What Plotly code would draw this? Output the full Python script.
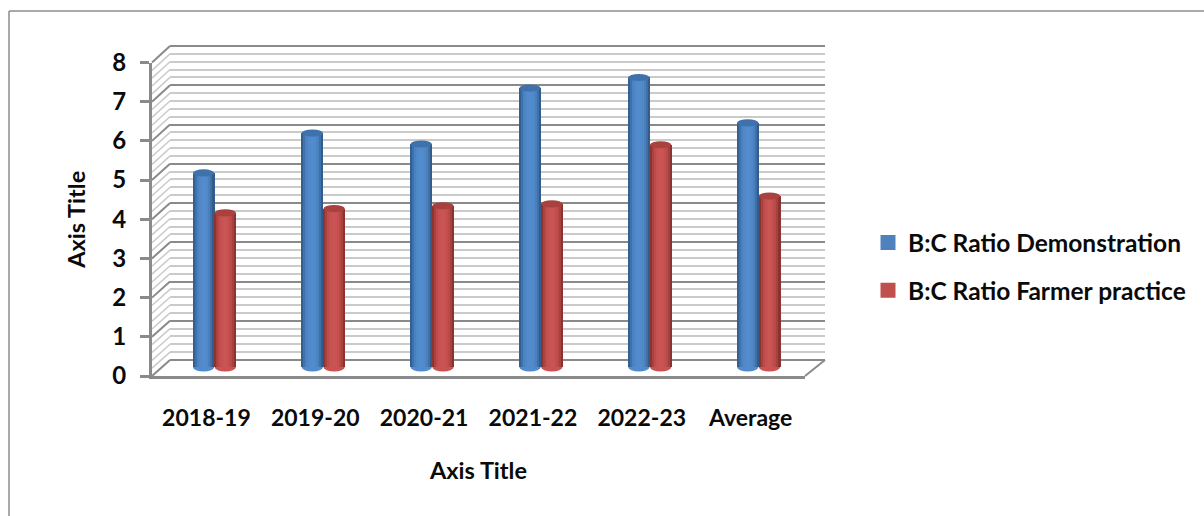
import plotly.graph_objects as go

categories = ["2018-19", "2019-20", "2020-21", "2021-22", "2022-23", "Average"]
demonstration = [4.96, 5.98, 5.7, 7.13, 7.4, 6.24]
farmer = [3.94, 4.05, 4.12, 4.17, 5.68, 4.37]
series_names = ["B:C Ratio Demonstration", "B:C Ratio Farmer practice"]
y_ticks = [0, 1, 2, 3, 4, 5, 6, 7, 8]

W, H = 1204, 516
FONT = "Lato, 'Open Sans', sans-serif"
TXT = "#0a0a0a"
BLUE_KEY = "#4f81bd"
RED_KEY = "#c0504d"
BLUE_SHADES = ["#32608f", "#3f72ad", "#4a81c0", "#4f88c8", "#528bcc", "#538ccd", "#528bcc", "#4f88c7", "#4a80bd", "#3f70a8", "#325c8a"]
RED_SHADES = ["#8c3432", "#a9423f", "#bc4b49", "#c55150", "#c95352", "#ca5553", "#c95352", "#c4504e", "#ba4a48", "#a6413f", "#8a3331"]


def fx(px):
    return px / W


def fy(px):
    return 1 - px / H


# pixel boxes (left, right, top, bottom) of the three depth planes
BACK = (170, 825, 46, 360)
FRONT = (152, 805, 62.5, 376)
MID = (160, 813, 54, 367)
GRID_MAJOR = "#8a8a8a"
GRID_MINOR = "#cacaca"

fig = go.Figure()

# plane helpers: invisible traces make the back and front axes exist
fig.add_trace(go.Scatter(x=categories, y=[None] * 6, xaxis="x", yaxis="y", showlegend=False, hoverinfo="skip"))
fig.add_trace(go.Scatter(x=categories, y=[None] * 6, xaxis="x2", yaxis="y2", showlegend=False, hoverinfo="skip"))

BAR_W = 0.2
for name, vals, shades, start, key in [
    (series_names[0], demonstration, BLUE_SHADES, -BAR_W, BLUE_KEY),
    (series_names[1], farmer, RED_SHADES, 0.0, RED_KEY),
]:
    # legend key only
    fig.add_trace(go.Bar(
        x=categories, y=[None] * 6, name=name, xaxis="x3", yaxis="y3",
        marker=dict(color=key, line=dict(color=key, width=3)),
        legendgroup=name, showlegend=True,
    ))
    # narrow strips give the cylinder shading
    n = len(shades)
    for k, c in enumerate(shades):
        fig.add_trace(go.Bar(
            x=categories, y=vals, xaxis="x3", yaxis="y3", name=name,
            width=BAR_W / n + 0.002, offset=start + k * BAR_W / n,
            marker=dict(color=c, line=dict(width=0)),
            legendgroup=name, showlegend=False,
        ))

shapes = []
# chart frame
line_frame = dict(color="#8c8c8c", width=1.5)
shapes.append(dict(type="line", xref="paper", yref="paper", x0=fx(9), x1=fx(W), y0=fy(11), y1=fy(11), line=line_frame))
shapes.append(dict(type="line", xref="paper", yref="paper", x0=fx(9), x1=fx(9), y0=fy(11), y1=fy(H), line=line_frame))

# left wall diagonals
for i in range(41):
    v = i * 0.2
    major = i % 5 == 0
    yf = FRONT[3] + (FRONT[2] - FRONT[3]) * v / 8
    yb = BACK[3] + (BACK[2] - BACK[3]) * v / 8
    shapes.append(dict(
        type="line", xref="paper", yref="paper", layer="below",
        x0=fx(FRONT[0]), y0=fy(yf), x1=fx(BACK[0]), y1=fy(yb),
        line=dict(color=GRID_MAJOR if major else GRID_MINOR, width=2 if major else 1.5),
    ))
# floor right edge and the top and bottom back-wall lines
shapes.append(dict(type="line", xref="paper", yref="paper", layer="below",
                   x0=fx(FRONT[1]), y0=fy(FRONT[3]), x1=fx(BACK[1]), y1=fy(BACK[3]),
                   line=dict(color=GRID_MAJOR, width=2)))
for y_edge in (BACK[2], BACK[3]):
    shapes.append(dict(type="line", xref="paper", yref="paper", layer="below",
                       x0=fx(BACK[0]), y0=fy(y_edge), x1=fx(BACK[1]), y1=fy(y_edge),
                       line=dict(color=GRID_MAJOR, width=2)))

# cylinder caps, from the data
cap_half = 0.098
cap_v = 0.115
for vals, shades, start in [(demonstration, BLUE_SHADES, -BAR_W), (farmer, RED_SHADES, 0.0)]:
    for i, v in enumerate(vals):
        c = i + start + BAR_W / 2
        shapes.append(dict(type="circle", xref="x3", yref="y3", layer="between",
                           x0=c - cap_half, x1=c + cap_half, y0=-cap_v, y1=cap_v,
                           fillcolor=shades[4], line=dict(width=0)))
        shapes.append(dict(type="circle", xref="x3", yref="y3", layer="above",
                           x0=c - cap_half, x1=c + cap_half, y0=v - cap_v * 0.8, y1=v + cap_v * 0.8,
                           fillcolor=shades[1], line=dict(width=0)))

# the bar plane reaches a little below zero so that the round cylinder feet are not clipped
Y_FLOOR = -0.2
PX_PER_UNIT = (MID[3] - MID[2]) / 8
MID_BOTTOM = MID[3] - Y_FLOOR * PX_PER_UNIT

fig.update_layout(
    width=W, height=H, margin=dict(l=0, r=0, t=0, b=0),
    paper_bgcolor="white", plot_bgcolor="rgba(0,0,0,0)",
    barmode="overlay", bargap=0,
    font=dict(family=FONT, size=22, color=TXT),
    shapes=shapes,
    showlegend=True,
    legend=dict(
        x=fx(868), y=fy(220), xanchor="left", yanchor="top",
        bgcolor="rgba(0,0,0,0)", tracegroupgap=13, itemwidth=30,
        font=dict(family=FONT, size=24.5, color=TXT, weight="bold"),
    ),
    xaxis=dict(domain=[fx(BACK[0]), fx(BACK[1])], visible=False, range=[-0.5, 5.5], type="category",
               categoryorder="array", categoryarray=categories, anchor="y", automargin=False),
    yaxis=dict(domain=[fy(BACK[3]), fy(BACK[2])], range=[0, 8], dtick=1, showgrid=True, automargin=False,
               gridcolor=GRID_MAJOR, gridwidth=2, zeroline=False, showticklabels=False, showline=False, ticks="",
               minor=dict(dtick=0.2, showgrid=True, gridcolor=GRID_MINOR, gridwidth=2), anchor="x"),
    xaxis2=dict(domain=[fx(FRONT[0]), fx(FRONT[1])], type="category", categoryorder="array", categoryarray=categories,
                range=[-0.5, 5.5], anchor="y2", showgrid=False, zeroline=False, showline=True, automargin=False,
                linecolor=GRID_MAJOR, linewidth=3, ticks="", ticklabelstandoff=19,
                tickfont=dict(family=FONT, size=23, color=TXT, weight="bold"),
                title=dict(text="Axis Title", standoff=33, font=dict(family=FONT, size=23.5, color=TXT, weight="bold"))),
    yaxis2=dict(domain=[fy(FRONT[3]), fy(FRONT[2])], range=[0, 8], tickvals=y_ticks, anchor="x2", automargin=False,
                showgrid=False, zeroline=False, showline=True, linecolor=GRID_MAJOR, linewidth=3,
                ticks="outside", ticklen=9, tickwidth=3, tickcolor=GRID_MAJOR, ticklabelstandoff=9,
                tickfont=dict(family=FONT, size=24, color=TXT, weight="bold"),
                title=dict(text="Axis Title", standoff=21, font=dict(family=FONT, size=23.5, color=TXT, weight="bold"))),
    xaxis3=dict(domain=[fx(MID[0]), fx(MID[1])], type="category", categoryorder="array", categoryarray=categories,
                range=[-0.5, 5.5], anchor="y3", visible=False, automargin=False),
    yaxis3=dict(domain=[fy(MID_BOTTOM), fy(MID[2])], range=[Y_FLOOR, 8], anchor="x3", visible=False, automargin=False),
)

fig.write_html("out.html", post_script="document.body.style.margin='0';", config=dict(displayModeBar=False))
